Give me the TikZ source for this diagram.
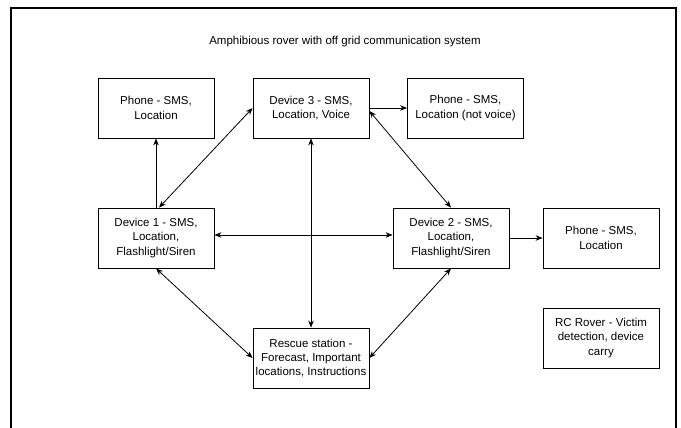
\documentclass[tikz,border=0pt]{standalone}
\usepackage{fontspec}
\setmainfont{Liberation Sans}
\usetikzlibrary{arrows.meta}

\begin{document}
\begin{tikzpicture}[x=1pt, y=-1pt,
    every node/.style={font=\fontsize{11.5}{14.4}\selectfont},
    unit/.style={draw, line width=0.8pt, minimum width=116pt, minimum height=60pt, align=center, inner sep=2pt},
    link/.style={line width=0.8pt, -{Stealth[length=7pt, width=5.5pt]}},
    dlink/.style={line width=0.8pt, {Stealth[length=7pt, width=5.5pt]}-{Stealth[length=7pt, width=5.5pt]}}]
\useasboundingbox (0,0) rectangle (681,428);

% Outer frame
\draw[line width=1.3pt] (11,432) -- (11,8) -- (676,8) -- (676,432);

\node (title) at (345, 42) {Amphibious rover with off grid communication system};

% Boxes
\node[unit] (phonea) at (156,108) {Phone - SMS,\\Location};
\node[unit] (devthree) at (311,108) {Device 3 - SMS,\\Location, Voice};
\node[unit] (phoneb) at (465.5,108) {Phone - SMS,\\Location (not voice)};
\node[unit] (devone) at (156,238) {Device 1 - SMS,\\Location,\\Flashlight/Siren};
\node[unit] (devtwo) at (451,238) {Device 2 - SMS,\\Location,\\Flashlight/Siren};
\node[unit] (phonec) at (601,238) {Phone - SMS,\\Location};
\node[unit] (rescue) at (311,358) {Rescue station -\\Forecast, Important\\locations, Instructions};
\node[unit] (rover) at (601,338) {RC Rover - Victim\\detection, device\\carry};

% Links
\draw[link] (devone.north) -- (phonea.south);
\draw[dlink] ([xshift=3pt]devone.north) -- (devthree.west);
\draw[link] (devthree.east) -- (phoneb.west);
\draw[dlink] ([yshift=-3pt]devthree.east) -- (devtwo.north);
\draw[dlink] (devthree.south) -- (rescue.north);
\draw[dlink] ([yshift=3pt]devone.east) -- ([yshift=3pt]devtwo.west);
\draw[link] (devtwo.east) -- (phonec.west);
\draw[dlink] (devone.south) -- (rescue.west);
\draw[dlink] (devtwo.south) -- (rescue.east);
\end{tikzpicture}
\end{document}
